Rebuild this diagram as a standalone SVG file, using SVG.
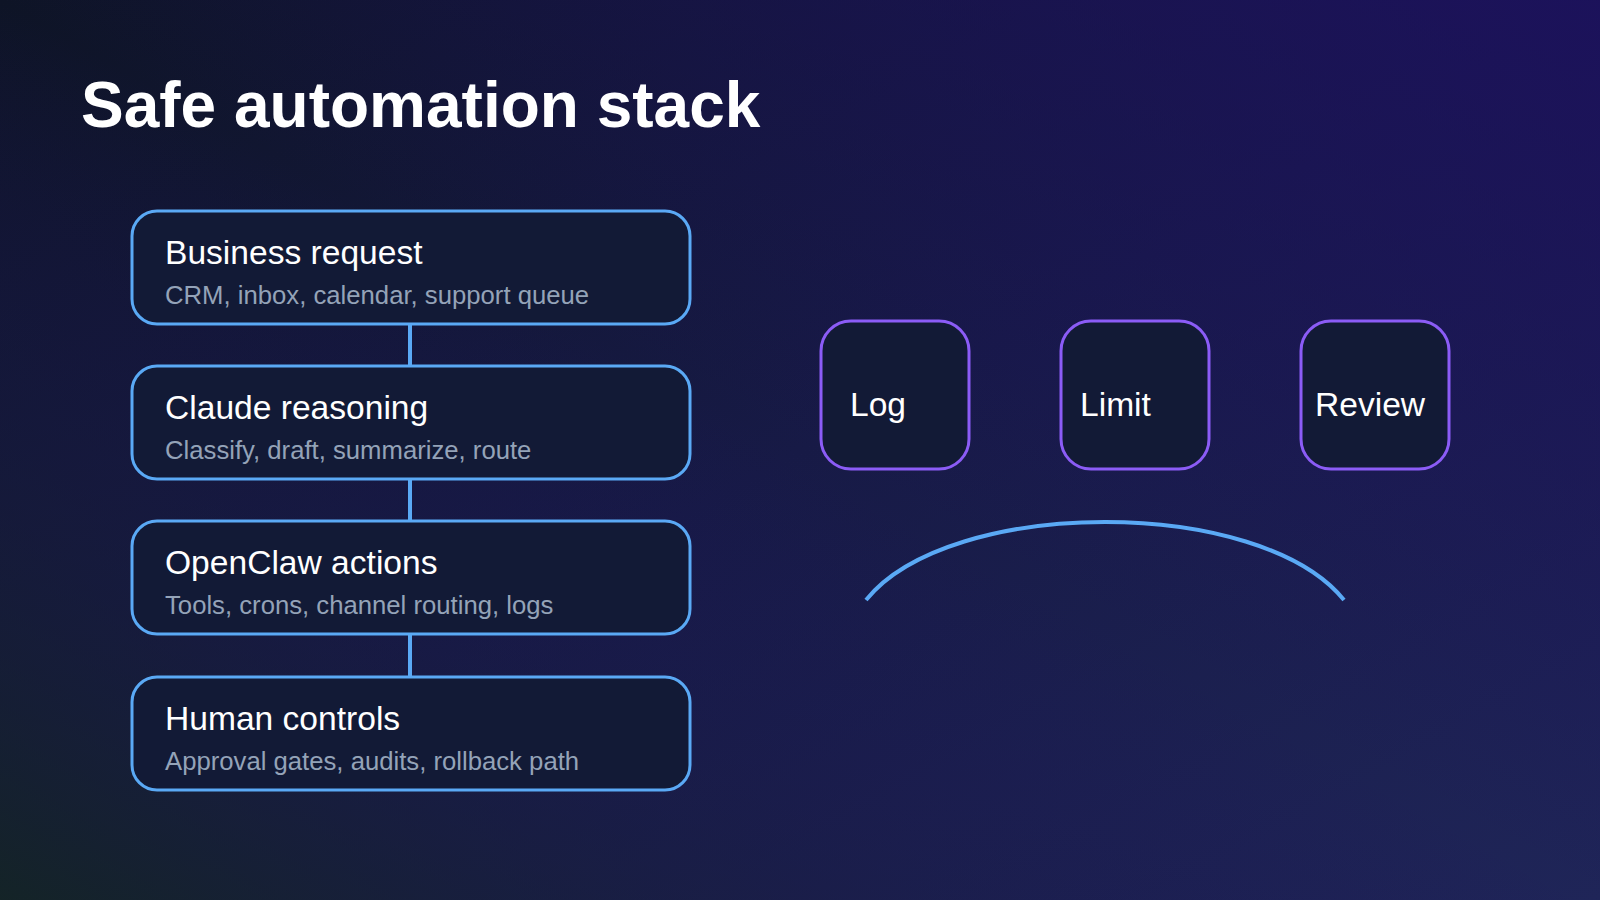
<svg xmlns="http://www.w3.org/2000/svg" width="1600" height="900" viewBox="0 0 1600 900">
<defs>
<linearGradient id="bg" x1="0" y1="0" x2="1" y2="1">
<stop offset="0" stop-color="#0e1426"/>
<stop offset="0.5" stop-color="#171a46"/>
<stop offset="1" stop-color="#1f2558"/>
</linearGradient>
<linearGradient id="bg2" x1="1" y1="0" x2="0" y2="1">
<stop offset="0" stop-color="#1d1060" stop-opacity="0.8"/>
<stop offset="0.5" stop-color="#1d1060" stop-opacity="0"/>
<stop offset="1" stop-color="#13261f" stop-opacity="0.8"/>
</linearGradient>
<style>
.box{fill:#121a36;stroke:#5aa9f5;stroke-width:3}
.sq{fill:#121a36;stroke:#8b5cf6;stroke-width:3}
.t{font-family:"Liberation Sans",Arial,sans-serif;fill:#ffffff;font-size:33.6px}
.s{font-family:"Liberation Sans",Arial,sans-serif;fill:#94a3b8;font-size:25.7px}
.c{stroke:#5aa9f5;stroke-width:4;fill:none}
</style>
</defs>
<rect width="1600" height="900" fill="url(#bg)"/>
<rect width="1600" height="900" fill="url(#bg2)"/>
<text x="81" y="127" font-family="Liberation Sans,Arial,sans-serif" font-weight="bold" font-size="64" fill="#ffffff">Safe automation stack</text>
<g id="connectors">
<line class="c" x1="410" y1="324" x2="410" y2="366"/>
<line class="c" x1="410" y1="480" x2="410" y2="521"/>
<line class="c" x1="410" y1="635" x2="410" y2="677"/>
<path class="c" d="M866 600 C950 496 1260 496 1344 600"/>
</g>
<g id="business"><rect class="box" x="132" y="211" width="558" height="113" rx="25"/><text class="t" x="165" y="264">Business request</text><text class="s" x="165" y="304">CRM, inbox, calendar, support queue</text></g>
<g id="claude"><rect class="box" x="132" y="366" width="558" height="113" rx="25"/><text class="t" x="165" y="419">Claude reasoning</text><text class="s" x="165" y="459">Classify, draft, summarize, route</text></g>
<g id="openclaw"><rect class="box" x="132" y="521" width="558" height="113" rx="25"/><text class="t" x="165" y="574">OpenClaw actions</text><text class="s" x="165" y="614">Tools, crons, channel routing, logs</text></g>
<g id="human"><rect class="box" x="132" y="677" width="558" height="113" rx="25"/><text class="t" x="165" y="730">Human controls</text><text class="s" x="165" y="770">Approval gates, audits, rollback path</text></g>
<g id="log"><rect class="sq" x="821" y="321" width="148" height="148" rx="30"/><text class="t" x="850" y="416">Log</text></g>
<g id="limit"><rect class="sq" x="1061" y="321" width="148" height="148" rx="30"/><text class="t" x="1080" y="416">Limit</text></g>
<g id="review"><rect class="sq" x="1301" y="321" width="148" height="148" rx="30"/><text class="t" x="1315" y="416">Review</text></g>
</svg>
